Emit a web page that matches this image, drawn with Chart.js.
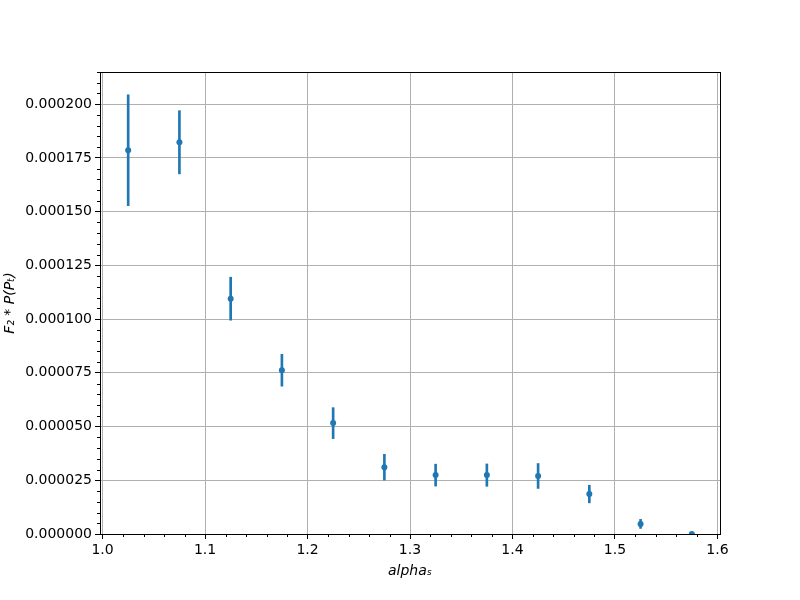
<!DOCTYPE html>
<html>
<head>
<meta charset="utf-8">
<script src="https://cdn.jsdelivr.net/npm/chart.js@4/dist/chart.umd.min.js"></script>
<style>
    html, body { margin: 0; padding: 0; background: #ffffff; }
    #wrap { width: 800px; height: 600px; }
</style>
</head>
<body>
<div id="wrap"><canvas id="myChart" width="800" height="600"></canvas></div>
<script>
// alpha_s values and measured F2 * P(Pt) with its error
const alphaValues = [1.025, 1.075, 1.125, 1.175, 1.225, 1.275, 1.325, 1.375, 1.425, 1.475, 1.525, 1.575];
const f2Values = [0.0001786, 0.0001823, 0.0001095, 0.0000762, 0.0000516, 0.0000311, 0.0000274, 0.0000274, 0.0000270, 0.0000186, 0.0000047, 0.0000000];
const f2Errors = [0.0000258, 0.0000147, 0.0000100, 0.0000074, 0.0000072, 0.0000060, 0.0000051, 0.0000052, 0.0000058, 0.0000041, 0.0000021, 0.0000002];

const xTitle = 'alphaₛ';
const yTitle = 'F₂ * P(Pₜ)';

const blue = '#1f77b4';
const gridGrey = '#b0b0b0';
const fontFamily = "'DejaVu Sans', sans-serif";

document.addEventListener('DOMContentLoaded', generateChart);

function generateChart() {
    const ctx = document.getElementById('myChart');

    const points = alphaValues.map((x, i) => ({ x: x, y: f2Values[i] }));
    const errorBars = alphaValues.map((x, i) => ({ x: x, y: [f2Values[i] - f2Errors[i], f2Values[i] + f2Errors[i]] }));

    // matplotlib style: box around the plot and small minor ticks
    const frameAndMinorTicks = {
        id: 'frameAndMinorTicks',
        afterDraw: (chart) => {
            const { ctx, chartArea: { left, top, right, bottom }, scales: { x, y } } = chart;
            ctx.save();
            ctx.strokeStyle = '#000000';
            ctx.lineWidth = 1;

            ctx.beginPath();
            for (let i = 0; i <= 30; i++) {
                if (i % 5 === 0) continue;
                const px = Math.round(x.getPixelForValue(1.0 + i * 0.02)) + 0.5;
                ctx.moveTo(px, bottom);
                ctx.lineTo(px, bottom + 3);
            }
            for (let i = 0; i <= 43; i++) {
                if (i % 5 === 0) continue;
                const py = Math.round(y.getPixelForValue(i * 0.000005)) + 0.5;
                ctx.moveTo(left, py);
                ctx.lineTo(left - 3, py);
            }
            ctx.stroke();

            ctx.strokeRect(Math.round(left) + 0.5, Math.round(top) + 0.5, Math.round(right - left), Math.round(bottom - top));
            ctx.restore();
        }
    };

    const config = {
        type: 'scatter',
        data: {
            datasets: [
                {
                    type: 'bar',
                    label: 'error',
                    data: errorBars,
                    backgroundColor: blue,
                    borderWidth: 0,
                    barThickness: 2,
                    order: 2
                },
                {
                    type: 'scatter',
                    label: 'F2',
                    data: points,
                    backgroundColor: blue,
                    borderWidth: 0,
                    pointRadius: 3,
                    order: 1
                }
            ]
        },
        options: {
            responsive: false,
            animation: false,
            events: [],
            layout: {
                padding: { top: 72, right: 80, left: 0, bottom: 0 }
            },
            scales: {
                x: {
                    type: 'linear',
                    min: 0.9975,
                    max: 1.6025,
                    offset: false,
                    afterFit: (scale) => { scale.height = 66; },
                    ticks: {
                        stepSize: 0.1,
                        includeBounds: false,
                        autoSkip: false,
                        maxRotation: 0,
                        padding: 3,
                        color: '#000000',
                        font: { family: fontFamily, size: 14 },
                        callback: (v) => v.toFixed(1)
                    },
                    grid: {
                        offset: false,
                        color: gridGrey,
                        lineWidth: 1,
                        tickColor: '#000000',
                        tickLength: 5
                    },
                    border: { color: '#000000', width: 1 },
                    title: {
                        display: true,
                        text: xTitle,
                        color: '#000000',
                        padding: { top: 4, bottom: 20 },
                        font: { family: fontFamily, size: 14, style: 'italic' }
                    }
                },
                y: {
                    type: 'linear',
                    min: 0,
                    max: 0.000215,
                    afterFit: (scale) => { scale.width = 100; },
                    ticks: {
                        stepSize: 0.000025,
                        includeBounds: false,
                        padding: 3,
                        color: '#000000',
                        font: { family: fontFamily, size: 14 },
                        callback: (v) => v.toFixed(6)
                    },
                    grid: {
                        color: gridGrey,
                        lineWidth: 1,
                        tickColor: '#000000',
                        tickLength: 5
                    },
                    border: { color: '#000000', width: 1 },
                    title: {
                        display: true,
                        text: yTitle,
                        color: '#000000',
                        padding: { top: 2, bottom: 4 },
                        font: { family: fontFamily, size: 14, style: 'italic' }
                    }
                }
            },
            plugins: {
                legend: { display: false },
                tooltip: { enabled: false }
            }
        },
        plugins: [frameAndMinorTicks]
    };

    new Chart(ctx, config);
}
</script>
</body>
</html>
